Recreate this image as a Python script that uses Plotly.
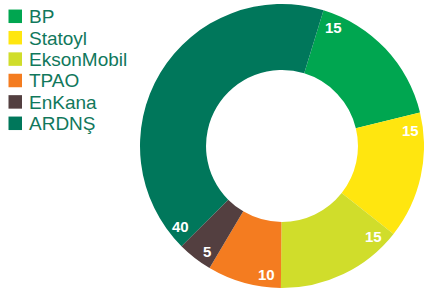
import math
import plotly.graph_objects as go

# Data
companies = ["BP", "Statoyl", "EksonMobil", "TPAO", "EnKana", "ARDNŞ"]
value_labels = ["15", "15", "15", "10", "5", "40"]          # numbers printed on the ring
shares = [16.5, 14.4, 14.5, 8.4, 4.0, 42.2]                # slice sizes as drawn in the picture
colors = ["#00A650", "#FFE60F", "#D0DD2B", "#F47C20", "#533F40", "#00775B"]

W, H = 424, 292
ROT = 17
dom_x = [140 / W, 1.0]
dom_y = [0.0, 1.0]

fig = go.Figure()
fig.add_trace(go.Pie(
    labels=companies,
    values=shares,
    sort=False,
    direction="clockwise",
    rotation=ROT,
    hole=0.535,
    marker=dict(colors=colors, line=dict(width=0)),
    textinfo="none",
    hoverinfo="label",
    showlegend=False,
    domain=dict(x=dom_x, y=dom_y),
))

# geometry of the pie in pixels (derived from domain)
dw = (dom_x[1] - dom_x[0]) * W
dh = (dom_y[1] - dom_y[0]) * H
R = min(dw, dh) / 2
cx = dom_x[0] * W + dw / 2
cy = (1 - (dom_y[0] + dom_y[1]) / 2) * H

annotations = []
total = sum(shares)
start = ROT
for lab, s in zip(value_labels, shares):
    span = s / total * 360
    ang = math.radians(start + min(6.5, span / 2 - 2.5))
    r = 0.91 * R
    px = cx + r * math.sin(ang)
    py = cy - r * math.cos(ang)
    annotations.append(dict(
        x=px / W, y=1 - py / H, xref="paper", yref="paper",
        text="<b>%s</b>" % lab, showarrow=False,
        font=dict(family="Liberation Sans, Arial", size=15, color="white"),
        xanchor="center", yanchor="middle",
    ))
    start += span

# custom legend built from the arrays
shapes = []
leg_top = 16.3
leg_step = 21.4
sq = 13.5
for i, (name, col) in enumerate(zip(companies, colors)):
    yc = leg_top + i * leg_step
    shapes.append(dict(
        type="rect", xref="paper", yref="paper",
        x0=8.5 / W, x1=(8.5 + sq) / W,
        y0=1 - (yc + sq / 2) / H, y1=1 - (yc - sq / 2) / H,
        fillcolor=col, line=dict(width=0),
    ))
    annotations.append(dict(
        x=26.5 / W, y=1 - (yc + 0.5) / H, xref="paper", yref="paper",
        text=name, showarrow=False,
        font=dict(family="Liberation Sans, Arial", size=19, color="#11785C"),
        xanchor="left", yanchor="middle",
    ))

fig.update_layout(
    width=W, height=H,
    margin=dict(l=0, r=0, t=0, b=0),
    paper_bgcolor="white",
    plot_bgcolor="white",
    annotations=annotations,
    shapes=shapes,
)

fig.write_html(
    "out.html",
    config={"displayModeBar": False},
    post_script="document.body.style.margin='0px';",
)
